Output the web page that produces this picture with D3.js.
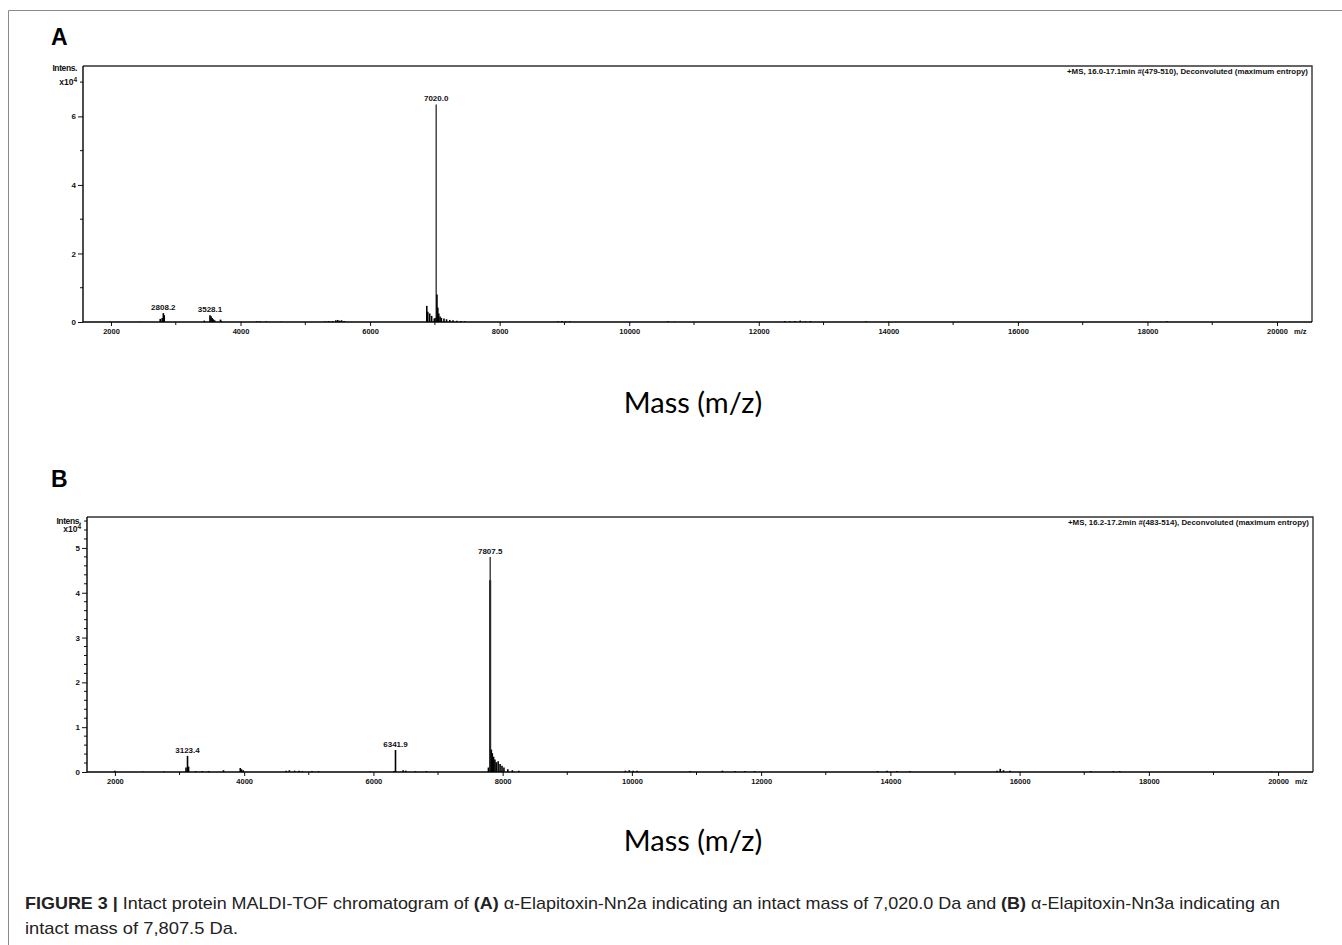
<!DOCTYPE html>
<html>
<head>
<meta charset="utf-8">
<script src="https://cdn.jsdelivr.net/npm/d3@7"></script>
<style>
    body { margin: 0; background: #fff; }
    svg { display: block; }
    .tick-lbl { font-family: "Liberation Sans", Arial, sans-serif; font-size: 7.5px; font-weight: bold; fill: #111; }
</style>
</head>
<body>
<svg id="fig" width="1342" height="945"></svg>
<script>
// Panel A spectrum (m/z, intensity x10^4)
const massA = [1990, 2110, 2440, 2760, 2790, 2808.2, 2822, 3440, 3528.1, 3545, 3562, 3580, 3600, 3690, 3700,
    4250, 4300, 4400, 4620, 5300, 5360, 5420, 5470, 5500, 5530, 5560, 5600,
    6875, 6890, 6920, 6950, 6990, 7005, 7020, 7032, 7045, 7060, 7080, 7100, 7140, 7180, 7230, 7280, 7340, 7400, 7460,
    8900, 8960, 9020, 9080, 10600, 10700, 12400, 12480, 12560, 12640, 12720, 12800, 13660, 14000, 18300];
const intA = [0.01, 0.01, 0.01, 0.09, 0.12, 0.26, 0.2, 0.04, 0.2, 0.17, 0.12, 0.08, 0.05, 0.07, 0.04,
    0.02, 0.02, 0.02, 0.01, 0.02, 0.03, 0.03, 0.05, 0.06, 0.04, 0.05, 0.03,
    0.47, 0.3, 0.25, 0.18, 0.1, 0.12, 6.35, 0.8, 0.42, 0.25, 0.16, 0.12, 0.1, 0.08, 0.06, 0.05, 0.04, 0.03, 0.02,
    0.02, 0.03, 0.02, 0.02, 0.02, 0.01, 0.03, 0.02, 0.03, 0.04, 0.02, 0.03, 0.02, 0.01, 0.02];
const peakLabelsA = [2808.2, 3528.1, 7020.0];

// Panel B spectrum (m/z, intensity x10^4)
const massB = [2000, 2430, 2760, 3100, 3123.4, 3140, 3250, 3350, 3450, 3680, 3940, 3960, 3985,
    4650, 4700, 4780, 4850, 4900, 5050, 5150, 5950, 6320, 6341.9, 6460, 6500, 6650, 6820,
    7780, 7800, 7807.5, 7813, 7825, 7840, 7860, 7880, 7900, 7930, 7960, 7990, 8020, 8080, 8150, 8250,
    9900, 9960, 10020, 10080, 10900, 11400, 11600, 11750, 11900, 13800, 13950, 14100, 14300,
    15650, 15700, 15750, 15850, 17100, 17450, 17550, 19900];
const intB = [0.03, 0.01, 0.01, 0.1, 0.36, 0.12, 0.02, 0.02, 0.02, 0.04, 0.09, 0.06, 0.04,
    0.03, 0.04, 0.03, 0.03, 0.02, 0.02, 0.02, 0.01, 0.02, 0.49, 0.04, 0.03, 0.02, 0.02,
    0.1, 4.28, 4.8, 4.28, 0.5, 0.42, 0.34, 0.28, 0.22, 0.24, 0.18, 0.14, 0.1, 0.06, 0.04, 0.03,
    0.03, 0.04, 0.03, 0.03, 0.02, 0.03, 0.02, 0.02, 0.02, 0.02, 0.03, 0.02, 0.02,
    0.03, 0.07, 0.04, 0.03, 0.02, 0.02, 0.02, 0.01];
const peakLabelsB = [3123.4, 6341.9, 7807.5];

const xTicks = [2000, 4000, 6000, 8000, 10000, 12000, 14000, 16000, 18000, 20000];
const xDomain = [1568, 20540];

const svg = d3.select('#fig');

// Figure frame (thin gray, top and left)
svg.append('path')
    .attr('d', 'M8.5,945 L8.5,10.5 L1342,10.5')
    .style('fill', 'none')
    .style('stroke', '#8a8a8a')
    .style('stroke-width', 1);

function drawPanel(opts) {
    const {letter, letterY, left, right, top, bottom, yMax, yMajor, yMinorStep, yLabelMax,
        intensTickY, expTickY, mass, inten, peaks, header, titleY} = opts;

    const x = d3.scaleLinear().domain(xDomain).range([left, right]);
    const y = d3.scaleLinear().domain([0, yMax]).range([bottom, top]);

    const g = svg.append('g');

    // Panel letter
    g.append('text')
        .attr('x', 51)
        .attr('y', letterY)
        .style('font-family', '"Liberation Sans", Arial, sans-serif')
        .style('font-weight', 'bold')
        .style('font-size', '23px')
        .text(letter);

    // Spectrum sticks
    const pts = mass.map((m, i) => ({m: m, v: inten[i]}));
    g.append('g')
        .selectAll('line')
        .data(pts)
        .enter()
        .append('line')
        .attr('x1', d => x(d.m))
        .attr('x2', d => x(d.m))
        .attr('y1', y(0))
        .attr('y2', d => y(d.v))
        .style('stroke', d => d.v > 2 ? '#2a2a2a' : '#000')
        .style('stroke-width', d => d.v > 2 ? 1.3 : 1.6);

    // Peak labels
    g.append('g')
        .selectAll('text')
        .data(peaks)
        .enter()
        .append('text')
        .attr('class', 'tick-lbl')
        .style('font-size', '8px')
        .attr('x', d => x(d))
        .attr('y', d => {
            const idx = mass.findIndex(m => Math.abs(m - d) < 0.6);
            return y(inten[idx]) - 3;
        })
        .attr('text-anchor', 'middle')
        .text(d => d.toFixed(1));

    // Frame top and right
    g.append('path')
        .attr('d', `M${left},${top} L${right},${top} L${right},${bottom}`)
        .style('fill', 'none')
        .style('stroke', '#333')
        .style('stroke-width', 1.4);

    // X axis
    const xAxis = d3.axisBottom(x)
        .tickValues(xTicks)
        .tickSize(4)
        .tickFormat(d3.format('d'));
    const xg = g.append('g')
        .attr('transform', `translate(0, ${bottom})`)
        .call(xAxis);
    xg.select('.domain').remove();
    xg.selectAll('text').attr('class', 'tick-lbl').attr('dy', null).attr('y', 12);
    xg.selectAll('.tick line').style('stroke', '#111');

    const xMinor = d3.range(3000, 20001, 2000);
    g.append('g')
        .selectAll('line')
        .data(xMinor)
        .enter()
        .append('line')
        .attr('x1', d => x(d)).attr('x2', d => x(d))
        .attr('y1', bottom).attr('y2', bottom + 3)
        .style('stroke', '#111');

    g.append('line')
        .attr('x1', left).attr('x2', right)
        .attr('y1', bottom).attr('y2', bottom)
        .style('stroke', '#000')
        .style('stroke-width', 1.6);

    g.append('text')
        .attr('class', 'tick-lbl')
        .attr('x', x(20000) + 17)
        .attr('y', bottom + 12)
        .text('m/z');

    // Y axis
    const yAxis = d3.axisLeft(y)
        .tickValues(d3.range(0, yLabelMax + 0.001, yMajor))
        .tickSize(5)
        .tickFormat(d3.format('d'));
    const yg = g.append('g')
        .attr('transform', `translate(${left}, 0)`)
        .call(yAxis);
    yg.select('.domain').remove();
    yg.selectAll('text').attr('class', 'tick-lbl').style('font-size', '8px').attr('x', -7);
    yg.selectAll('.tick line').style('stroke', '#111');

    const yMinor = d3.range(0, yMax, yMinorStep).filter(v => Math.abs(v / yMajor - Math.round(v / yMajor)) > 0.01);
    g.append('g')
        .selectAll('line')
        .data(yMinor)
        .enter()
        .append('line')
        .attr('x1', left - 3).attr('x2', left)
        .attr('y1', d => y(d)).attr('y2', d => y(d))
        .style('stroke', '#111');

    g.append('line')
        .attr('x1', left).attr('x2', left)
        .attr('y1', top).attr('y2', bottom)
        .style('stroke', '#000')
        .style('stroke-width', 1.4);

    // Intens. x10^4 label
    g.append('text')
        .attr('class', 'tick-lbl')
        .attr('x', left - 6)
        .attr('y', y(intensTickY) + 2.5)
        .attr('text-anchor', 'end')
        .style('font-size', '8.5px')
        .style('letter-spacing', '-0.4px')
        .text('Intens.');
    const exp = g.append('text')
        .attr('class', 'tick-lbl')
        .attr('x', left - 6)
        .attr('y', y(expTickY) + 2.5)
        .attr('text-anchor', 'end')
        .style('font-size', '8.5px');
    exp.append('tspan').text('x10');
    exp.append('tspan').attr('dy', -3).style('font-size', '6.5px').text('4');

    // Acquisition header
    g.append('text')
        .attr('class', 'tick-lbl')
        .attr('x', right - 4)
        .attr('y', top + 8)
        .attr('text-anchor', 'end')
        .attr('textLength', 241)
        .attr('lengthAdjust', 'spacingAndGlyphs')
        .style('font-size', '7.5px')
        .text(header);

    // Axis title
    g.append('text')
        .attr('x', 693)
        .attr('y', titleY)
        .attr('text-anchor', 'middle')
        .style('font-family', 'Lato, "Open Sans", sans-serif')
        .style('font-size', '29px')
        .style('fill', '#000')
        .text('Mass (m/z)');
}

drawPanel({
    letter: 'A', letterY: 45,
    left: 83, right: 1312, top: 66, bottom: 322,
    yMax: 7.47, yMajor: 2, yMinorStep: 1, yLabelMax: 6,
    intensTickY: 7.4, expTickY: 7,
    mass: massA, inten: intA, peaks: peakLabelsA,
    header: '+MS, 16.0-17.1min #(479-510), Deconvoluted (maximum entropy)',
    titleY: 413
});

drawPanel({
    letter: 'B', letterY: 487,
    left: 87, right: 1313, top: 517, bottom: 772,
    yMax: 5.69, yMajor: 1, yMinorStep: 0.2, yLabelMax: 5,
    intensTickY: 5.6, expTickY: 5.4,
    mass: massB, inten: intB, peaks: peakLabelsB,
    header: '+MS, 16.2-17.2min #(483-514), Deconvoluted (maximum entropy)',
    titleY: 851
});

// Caption
const cap = svg.append('g')
    .style('font-family', '"Liberation Sans Narrow", "Liberation Sans", Arial, sans-serif')
    .style('font-size', '17px')
    .style('fill', '#222');

const line1 = cap.append('text')
    .attr('x', 25)
    .attr('y', 909)
    .attr('textLength', 1255)
    .attr('lengthAdjust', 'spacingAndGlyphs');
line1.append('tspan').style('font-weight', 'bold').text('FIGURE 3 | ');
line1.append('tspan').text('Intact protein MALDI-TOF chromatogram of ');
line1.append('tspan').style('font-weight', 'bold').text('(A)');
line1.append('tspan').text(' α-Elapitoxin-Nn2a indicating an intact mass of 7,020.0 Da and ');
line1.append('tspan').style('font-weight', 'bold').text('(B)');
line1.append('tspan').text(' α-Elapitoxin-Nn3a indicating an');

cap.append('text')
    .attr('x', 25)
    .attr('y', 934)
    .attr('textLength', 213)
    .attr('lengthAdjust', 'spacingAndGlyphs')
    .text('intact mass of 7,807.5 Da.');
</script>
</body>
</html>
